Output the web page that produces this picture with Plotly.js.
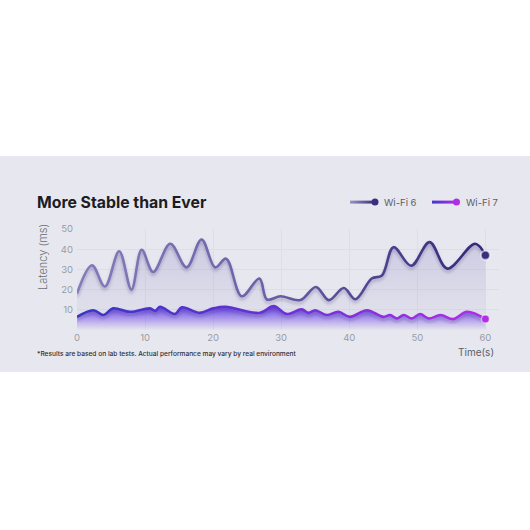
<!DOCTYPE html>
<html>
<head>
<meta charset="utf-8">
<script src="https://cdn.plot.ly/plotly-3.0.1.min.js"></script>
<style>
  html, body { margin: 0; padding: 0; background: #ffffff; }
  #chart { width: 530px; height: 530px; }
</style>
</head>
<body>
<div id="chart"></div>
<script>
// ---- data ----
const seriesNames = ["Wi-Fi 6", "Wi-Fi 7"];
const wifi6Time = [0, 2.2, 4.1, 6.2, 8, 9.5, 11.2, 13.7, 16.1, 18.3, 20.3, 21.9, 24.2, 26.8, 27.9, 29.9, 32.8, 35.1, 37, 39.2, 40.9, 43.3, 44.8, 46.5, 49.1, 51.8, 54.4, 58.5, 60];
const wifi6Latency = [18, 32, 21.5, 39, 20, 39.7, 28.7, 42.7, 31, 44.8, 31, 35.3, 16.7, 25.5, 15.1, 16.7, 14.8, 21.3, 14.8, 20.8, 15.2, 25.5, 27, 41, 31.8, 43.5, 30.4, 42.7, 37];
const wifi7Time = [0, 2.4, 3.9, 5.3, 7.8, 10.7, 11.5, 12.2, 14.4, 15.4, 18, 20, 21.8, 26.9, 28.9, 30.8, 33, 34, 35, 36.7, 38.4, 40.1, 42.6, 45, 46, 47, 48, 49.2, 50.4, 51.7, 53.4, 55.3, 57.3, 60];
const wifi7Latency = [6.5, 9.8, 7.4, 10.7, 9, 10.7, 9.5, 11.5, 7.9, 11.2, 8.5, 10.7, 11.5, 8.5, 11.8, 7.9, 10.2, 8.5, 9.8, 7.4, 9, 6.5, 9.8, 6.5, 7.4, 5.7, 7.4, 5.7, 7.9, 5.7, 7.4, 5.4, 9, 5.4];
const xTickVals = [0, 10, 20, 30, 40, 50, 60];
const yTickVals = [10, 20, 30, 40, 50];

const titleText = "More Stable than Ever";
const yTitleText = "Latency (ms)";
const xTitleText = "Time(s)";
const noteText = "*Results are based on lab tests. Actual performance may vary by real environment";

// ---- plot-area geometry (pixels) ----
const W = 530, H = 530;
const L = 77, R = 499, T = 229, B = 330;
const px = x => (x - L) / (R - L);
const py = y => (B - y) / (B - T);

const last = a => a[a.length - 1];

const traces = [
  {
    x: wifi6Time, y: wifi6Latency, name: seriesNames[0],
    type: "scatter", mode: "lines",
    line: { shape: "spline", smoothing: 1, width: 2.6, color: "#5a4f9a" },
    fill: "tozeroy",
    fillgradient: { type: "vertical", start: 0, stop: 45,
      colorscale: [[0, "rgba(150,140,200,0.04)"], [1, "rgba(120,110,185,0.26)"]] },
    hoverinfo: "skip"
  },
  {
    x: wifi7Time, y: wifi7Latency, name: seriesNames[1],
    type: "scatter", mode: "lines",
    line: { shape: "spline", smoothing: 1, width: 2.6, color: "#6a36d8" },
    fill: "tozeroy",
    fillgradient: { type: "vertical", start: 0, stop: 11,
      colorscale: [[0, "rgba(140,90,240,0.0)"], [0.5, "rgba(110,70,235,0.45)"], [1, "rgba(95,60,225,0.9)"]] },
    hoverinfo: "skip"
  },
  {
    x: [last(wifi6Time)], y: [last(wifi6Latency)], type: "scatter", mode: "markers",
    marker: { size: 9, color: "#3a2f7e", line: { width: 2, color: "rgba(255,255,255,0.55)" } },
    hoverinfo: "skip", showlegend: false
  },
  {
    x: [last(wifi7Time)], y: [last(wifi7Latency)], type: "scatter", mode: "markers",
    marker: { size: 8, color: "#b02ee6", line: { width: 1.5, color: "rgba(255,255,255,0.5)" } },
    hoverinfo: "skip", showlegend: false
  }
];

const axisFont = { family: "Inter, 'Noto Sans', sans-serif", size: 9.5, color: "#9a9aa6" };

const legendY = py(202);
const shapes = [
  { type: "rect", xref: "paper", yref: "paper", layer: "below",
    x0: px(-2), x1: px(W + 2), y0: py(372), y1: py(156),
    fillcolor: "#e7e8ef", line: { width: 0 } },
  // legend swatches
  { type: "rect", xref: "paper", yref: "paper", x0: px(350), x1: px(375), y0: py(203.6), y1: py(200.6),
    fillcolor: "#5a4f9a", line: { width: 0 } },
  { type: "rect", xref: "paper", yref: "paper", x0: px(432), x1: px(456), y0: py(203.6), y1: py(200.6),
    fillcolor: "#6a36d8", line: { width: 0 } },
  { type: "circle", xref: "paper", yref: "paper", x0: px(371.5), x1: px(378.5), y0: py(205.6), y1: py(198.6),
    fillcolor: "#3a2f7e", line: { width: 0 } },
  { type: "circle", xref: "paper", yref: "paper", x0: px(453), x1: px(460), y0: py(205.6), y1: py(198.6),
    fillcolor: "#b02ee6", line: { width: 0 } }
];

const annotations = [
  { text: seriesNames[0], xref: "paper", yref: "paper", x: px(382), y: legendY, xanchor: "left", yanchor: "middle",
    showarrow: false, font: { family: "Inter, sans-serif", size: 9.5, color: "#5c5c68" } },
  { text: seriesNames[1], xref: "paper", yref: "paper", x: px(464), y: legendY, xanchor: "left", yanchor: "middle",
    showarrow: false, font: { family: "Inter, sans-serif", size: 9.5, color: "#5c5c68" } },
  { text: yTitleText, xref: "paper", yref: "paper", x: px(43), y: py(257), xanchor: "center", yanchor: "middle",
    textangle: -90, showarrow: false, font: { family: "Inter, sans-serif", size: 11, color: "#6a6a74", weight: 300 } },
  { text: xTitleText, xref: "paper", yref: "paper", x: px(496), y: py(351.5), xanchor: "right", yanchor: "middle",
    showarrow: false, font: { family: "Inter, sans-serif", size: 10, color: "#5c5c68" } },
  { text: noteText, xref: "paper", yref: "paper", x: px(35), y: py(353.5), xanchor: "left", yanchor: "middle",
    showarrow: false, font: { family: "Inter, sans-serif", size: 6.6, color: "#2e2e36", weight: 500 } }
];

const layout = {
  width: W, height: H,
  margin: { l: L, r: W - R, t: T, b: H - B, pad: 0 },
  paper_bgcolor: "#ffffff",
  plot_bgcolor: "rgba(0,0,0,0)",
  showlegend: false,
  title: { text: "<b>" + titleText + "</b>", xref: "container", yref: "container",
    x: 37 / W, xanchor: "left", y: 1 - 202 / H, yanchor: "middle",
    font: { family: "Inter, 'Noto Sans', sans-serif", size: 15.8, color: "#1c1c22" } },
  xaxis: { range: [0, 62], tickvals: xTickVals, ticktext: xTickVals.map(String),
    showgrid: true, gridcolor: "#dddee7", gridwidth: 1, zeroline: false, showline: false,
    ticks: "", tickfont: axisFont, fixedrange: true },
  yaxis: { range: [0, 50], tickvals: yTickVals, ticktext: yTickVals.map(String),
    showgrid: true, gridcolor: "#dddee7", gridwidth: 1, zeroline: false, showline: false,
    ticks: "", tickfont: axisFont, ticklabelstandoff: 3, fixedrange: true },
  shapes: shapes,
  annotations: annotations
};

Plotly.newPlot("chart", traces, layout, { staticPlot: true, displayModeBar: false }).then(gd => {
  // horizontal colour gradients and soft shadows on the drawn lines
  const svg = gd.querySelector(".main-svg");
  const NS = "http://www.w3.org/2000/svg";
  let defs = svg.querySelector("defs");
  if (!defs) { defs = document.createElementNS(NS, "defs"); svg.insertBefore(defs, svg.firstChild); }
  function grad(id, stops) {
    const g = document.createElementNS(NS, "linearGradient");
    g.setAttribute("id", id);
    g.setAttribute("x1", "0"); g.setAttribute("y1", "0");
    g.setAttribute("x2", "1"); g.setAttribute("y2", "0");
    stops.forEach(([o, c]) => {
      const s = document.createElementNS(NS, "stop");
      s.setAttribute("offset", o); s.setAttribute("stop-color", c);
      g.appendChild(s);
    });
    defs.appendChild(g);
  }
  grad("g6", [["0", "#847bbb"], ["0.45", "#6a61a8"], ["1", "#33297a"]]);
  grad("g7", [["0", "#3a35c4"], ["0.5", "#6a30d8"], ["1", "#b22ee8"]]);
  grad("g6L", [["0", "#9a93c6"], ["1", "#3a2f7e"]]);
  grad("g7L", [["0", "#4236cf"], ["1", "#b02ee6"]]);
  const f = document.createElementNS(NS, "filter");
  f.setAttribute("id", "sh"); f.setAttribute("x", "-10%"); f.setAttribute("y", "-30%");
  f.setAttribute("width", "120%"); f.setAttribute("height", "160%");
  const ds = document.createElementNS(NS, "feDropShadow");
  ds.setAttribute("dx", "0"); ds.setAttribute("dy", "2.5"); ds.setAttribute("stdDeviation", "1.8");
  ds.setAttribute("flood-color", "#2a2060"); ds.setAttribute("flood-opacity", "0.28");
  f.appendChild(ds); defs.appendChild(f);

  const tr = gd.querySelectorAll(".scatterlayer .trace");
  const l6 = tr[0] && tr[0].querySelector("path.js-line");
  const l7 = tr[1] && tr[1].querySelector("path.js-line");
  if (l6) { l6.style.stroke = "url(#g6)"; l6.setAttribute("filter", "url(#sh)"); }
  if (l7) { l7.style.stroke = "url(#g7)"; l7.setAttribute("filter", "url(#sh)"); }

  const sp = gd.querySelectorAll(".shapelayer path");
  sp.forEach(p => {
    const i = p.getAttribute("data-index");
    if (i === "1") p.style.fill = "url(#g6L)";
    if (i === "2") p.style.fill = "url(#g7L)";
  });
});
</script>
</body>
</html>
